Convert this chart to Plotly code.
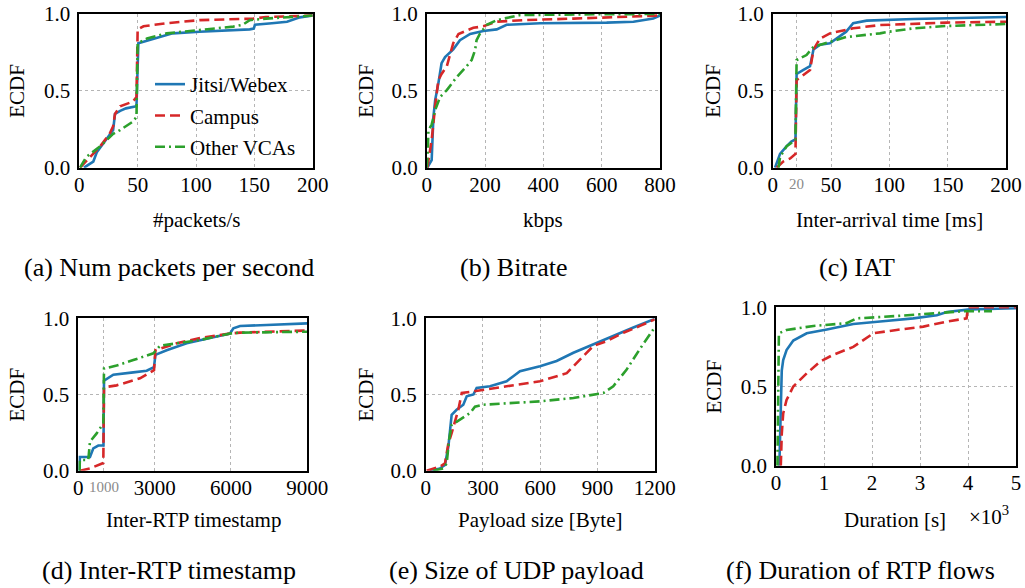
import plotly.graph_objects as go

# ---------------- data ----------------
series_names = ["Jitsi/Webex", "Campus", "Other VCAs"]

# (a) packets per second
a_jitsi_x = [4, 8, 12, 15, 20, 25, 29, 30.6, 35, 40, 49, 50.6, 55, 69, 80, 103, 120, 146, 149.5, 150.5, 165, 178, 189, 200]
a_jitsi_y = [0, 0.02, 0.04, 0.10, 0.15, 0.20, 0.245, 0.35, 0.37, 0.386, 0.40, 0.81, 0.82, 0.85, 0.874, 0.885, 0.89, 0.90, 0.905, 0.93, 0.94, 0.95, 0.978, 0.99]
a_campus_x = [0.6, 9, 18, 26, 29, 30.6, 35, 46, 49, 50, 55, 75, 103, 149, 160, 200]
a_campus_y = [0, 0.07, 0.14, 0.22, 0.27, 0.35, 0.40, 0.43, 0.46, 0.90, 0.92, 0.94, 0.96, 0.97, 0.98, 0.99]
a_other_x = [0.6, 6, 18, 29, 35, 46, 49, 50, 58, 75, 103, 132, 140, 146, 160, 189, 200]
a_other_y = [0, 0.07, 0.14, 0.22, 0.245, 0.30, 0.33, 0.81, 0.84, 0.874, 0.896, 0.918, 0.93, 0.96, 0.97, 0.985, 0.99]

# (b) bitrate [kbps]
b_jitsi_x = [2, 11, 17, 23, 29, 40, 51, 63, 91, 114, 149, 194, 240, 274, 389, 617, 709, 777, 800]
b_jitsi_y = [0, 0.03, 0.05, 0.33, 0.44, 0.55, 0.68, 0.72, 0.77, 0.83, 0.87, 0.89, 0.90, 0.93, 0.94, 0.944, 0.95, 0.97, 0.99]
b_campus_x = [2, 17, 29, 40, 51, 69, 91, 109, 160, 194, 240, 331, 503, 800]
b_campus_y = [0, 0.18, 0.40, 0.57, 0.61, 0.66, 0.81, 0.87, 0.91, 0.92, 0.95, 0.96, 0.97, 0.99]
b_other_x = [0, 3, 6, 17, 29, 46, 69, 103, 137, 154, 166, 171, 183, 206, 240, 320, 571, 800]
b_other_y = [0, 0.08, 0.245, 0.28, 0.375, 0.46, 0.505, 0.59, 0.66, 0.70, 0.766, 0.83, 0.874, 0.93, 0.96, 0.993, 0.998, 1.0]

# (c) inter-arrival time [ms]
c_jitsi_x = [2, 6.3, 12, 16, 19.5, 20.5, 26, 32, 35, 40.6, 49, 63, 69, 80.6, 121, 200]
c_jitsi_y = [0, 0.09, 0.14, 0.17, 0.185, 0.61, 0.635, 0.66, 0.77, 0.80, 0.81, 0.885, 0.94, 0.957, 0.967, 0.98]
c_campus_x = [3.4, 9, 15, 19.5, 20.5, 26, 32, 35, 40.6, 49, 69, 92, 149, 200]
c_campus_y = [0, 0.04, 0.06, 0.09, 0.57, 0.60, 0.635, 0.77, 0.84, 0.874, 0.907, 0.928, 0.944, 0.95]
c_other_x = [5, 6.3, 12, 19.5, 20.5, 29, 35, 49, 63, 92, 100, 121, 149, 200]
c_other_y = [0, 0.07, 0.14, 0.18, 0.70, 0.733, 0.787, 0.82, 0.85, 0.874, 0.885, 0.907, 0.922, 0.935]

# (d) inter-RTP timestamp
d_jitsi_x = [50, 60, 460, 590, 786, 990, 1010, 1376, 2162, 2687, 2975, 3030, 3473, 4260, 5440, 5963, 6094, 6357, 7405, 9000]
d_jitsi_y = [0, 0.09, 0.09, 0.147, 0.165, 0.165, 0.59, 0.63, 0.645, 0.656, 0.68, 0.76, 0.79, 0.836, 0.88, 0.90, 0.934, 0.95, 0.956, 0.967]
d_campus_x = [65, 460, 983, 1010, 1507, 2425, 2975, 3030, 3866, 4784, 5963, 6357, 9000]
d_campus_y = [0, 0.015, 0.05, 0.547, 0.56, 0.606, 0.66, 0.79, 0.836, 0.87, 0.90, 0.906, 0.92]
d_other_x = [50, 60, 393, 459, 721, 983, 1010, 1507, 2162, 2949, 3211, 4784, 5963, 6357, 9000]
d_other_y = [0, 0.07, 0.07, 0.19, 0.245, 0.31, 0.67, 0.69, 0.726, 0.77, 0.82, 0.858, 0.90, 0.906, 0.912]

# (e) UDP payload size [Byte]
e_jitsi_x = [23, 75, 101, 119, 136, 162, 197, 215, 250, 267, 337, 424, 459, 494, 599, 686, 774, 896, 983, 1088, 1193, 1200]
e_jitsi_y = [0, 0.015, 0.037, 0.16, 0.367, 0.40, 0.433, 0.488, 0.50, 0.543, 0.554, 0.587, 0.62, 0.653, 0.686, 0.72, 0.774, 0.84, 0.884, 0.94, 0.993, 1.0]
e_campus_x = [5, 75, 101, 119, 136, 171, 189, 250, 424, 599, 739, 809, 878, 948, 1036, 1123, 1200]
e_campus_y = [0, 0.026, 0.048, 0.18, 0.246, 0.40, 0.51, 0.52, 0.554, 0.587, 0.64, 0.73, 0.818, 0.85, 0.905, 0.95, 0.993]
e_other_x = [40, 93, 110, 122, 136, 180, 232, 258, 302, 599, 774, 931, 983, 1053, 1123, 1200]
e_other_y = [0, 0.015, 0.048, 0.20, 0.30, 0.334, 0.378, 0.42, 0.433, 0.455, 0.477, 0.51, 0.554, 0.664, 0.80, 0.94]

# (f) RTP flow duration [s]
f_jitsi_x = [70, 90, 100, 120, 150, 220, 360, 640, 1060, 1610, 2170, 2860, 3350, 3560, 4040, 5000]
f_jitsi_y = [0, 0.30, 0.50, 0.60, 0.667, 0.73, 0.79, 0.836, 0.86, 0.895, 0.91, 0.93, 0.95, 0.97, 0.987, 0.994]
f_campus_x = [100, 120, 150, 220, 360, 640, 920, 1190, 1610, 2030, 2510, 3070, 3560, 3970, 4000, 5000]
f_campus_y = [0, 0.20, 0.33, 0.415, 0.50, 0.583, 0.657, 0.70, 0.75, 0.836, 0.857, 0.878, 0.91, 0.93, 1.0, 1.0]
f_other_x = [30, 40, 60, 220, 780, 1470, 1680, 2510, 3350, 3900, 4500]
f_other_y = [0, 0.50, 0.836, 0.857, 0.882, 0.90, 0.93, 0.945, 0.962, 0.975, 0.975]

# axis ticks
a_ticks = [0, 50, 100, 150, 200]
b_ticks = [0, 200, 400, 600, 800]
c_ticks = [0, 50, 100, 150, 200]
c_marked_tick = 20          # extra tick drawn smaller and grey
d_ticks = [0, 3000, 6000, 9000]
d_marked_tick = 1000        # extra tick drawn smaller and grey
e_ticks = [0, 300, 600, 900, 1200]
f_ticks = [0, 1000, 2000, 3000, 4000, 5000]
f_ticklabels = ["0", "1", "2", "3", "4", "5"]
y_ticks = [0, 0.5, 1.0]
y_ticklabels = ["0.0", "0.5", "1.0"]

x_titles = ["#packets/s", "kbps", "Inter-arrival time [ms]",
            "Inter-RTP timestamp", "Payload size [Byte]", "Duration [s]"]
captions = ["(a) Num packets per second", "(b) Bitrate", "(c) IAT",
            "(d) Inter-RTP timestamp", "(e) Size of UDP payload", "(f) Duration of RTP flows"]

# ---------------- styling / layout ----------------
W, H = 1025, 588
FONT = "Liberation Serif"
colors = ["#1f77b4", "#d62728", "#2ca02c"]
dashes = ["solid", "10px,5px", "10px,4px,2px,4px"]
GRID = "#b5b5b5"

# pixel boxes (left, right, top, bottom)
boxes = [
    (79.3, 312.7, 14.0, 167.7),
    (426.7, 660.0, 14.0, 167.7),
    (772.7, 1006.0, 14.0, 167.7),
    (78.3, 307.3, 318.3, 470.7),
    (425.7, 654.7, 318.3, 470.7),
    (776.0, 1016.0, 307.3, 465.7),
]
ranges = [[0, 200], [0, 800], [0, 200], [0, 9000], [0, 1200], [0, 5000]]

tick_vals = [a_ticks, b_ticks, c_ticks, d_ticks, e_ticks, f_ticks]
tick_texts = [
    [str(v) for v in a_ticks],
    [str(v) for v in b_ticks],
    [str(v) for v in c_ticks],
    [str(v) for v in d_ticks],
    [str(v) for v in e_ticks],
    f_ticklabels,
]
minor_vals = [None, None, [c_marked_tick], [d_marked_tick], None, None]

data = [
    [(a_jitsi_x, a_jitsi_y), (a_campus_x, a_campus_y), (a_other_x, a_other_y)],
    [(b_jitsi_x, b_jitsi_y), (b_campus_x, b_campus_y), (b_other_x, b_other_y)],
    [(c_jitsi_x, c_jitsi_y), (c_campus_x, c_campus_y), (c_other_x, c_other_y)],
    [(d_jitsi_x, d_jitsi_y), (d_campus_x, d_campus_y), (d_other_x, d_other_y)],
    [(e_jitsi_x, e_jitsi_y), (e_campus_x, e_campus_y), (e_other_x, e_other_y)],
    [(f_jitsi_x, f_jitsi_y), (f_campus_x, f_campus_y), (f_other_x, f_other_y)],
]

fig = go.Figure()
layout = dict(
    template="none",
    width=W, height=H,
    margin=dict(l=0, r=0, t=0, b=0, pad=0, autoexpand=False),
    paper_bgcolor="white", plot_bgcolor="white",
    font=dict(family=FONT, size=21, color="black"),
    showlegend=True,
    legend=dict(x=150 / W, y=1 - 64 / H, xanchor="left", yanchor="top",
                bgcolor="rgba(0,0,0,0)", borderwidth=0,
                font=dict(family=FONT, size=21), tracegroupgap=1,
                itemwidth=30),
)

annotations = []
for i in range(6):
    n = "" if i == 0 else str(i + 1)
    l, r, t, b = boxes[i]
    for j in range(3):
        xs, ys = data[i][j]
        fig.add_trace(go.Scatter(
            x=xs, y=ys, mode="lines", name=series_names[j],
            line=dict(color=colors[j], width=2.6, dash=dashes[j]),
            xaxis="x" + n, yaxis="y" + n,
            showlegend=(i == 0), legendgroup=series_names[j],
        ))
    common = dict(showline=True, mirror=True, linecolor="black", linewidth=1.5,
                  showgrid=True, gridcolor=GRID, griddash="dot", gridwidth=1,
                  zeroline=False, ticks="", automargin=False,
                  tickfont=dict(family=FONT, size=21, color="black"))
    xa = dict(domain=[l / W, r / W], range=ranges[i], anchor="y" + n,
              tickmode="array", tickvals=tick_vals[i], ticktext=tick_texts[i],
              ticklabelstandoff=-3, **common)
    if minor_vals[i] is not None:
        xa["minor"] = dict(tickmode="array", tickvals=minor_vals[i], showgrid=True,
                           gridcolor=GRID, griddash="dot", gridwidth=1, ticks="")
    layout["xaxis" + n] = xa
    layout["yaxis" + n] = dict(domain=[1 - b / H, 1 - t / H], range=[0, 1], anchor="x" + n,
                               tickmode="array", tickvals=y_ticks, ticktext=y_ticklabels,
                               ticklabelstandoff=3, **common)

# small grey tick labels (placed at their data x position)
grey_font = dict(family=FONT, size=15, color="#8a8a8a")
annotations.append(dict(text=str(c_marked_tick), x=c_marked_tick, xref="x3", y=1 - 184 / H, yref="paper",
                        showarrow=False, xanchor="center", yanchor="middle", font=grey_font))
annotations.append(dict(text=str(d_marked_tick), x=d_marked_tick, xref="x4", y=1 - 487 / H, yref="paper",
                        showarrow=False, xanchor="center", yanchor="middle", font=grey_font))

# y titles
ylab_x = [17, 366, 713, 16, 365, 713]
for i in range(6):
    l, r, t, b = boxes[i]
    annotations.append(dict(text="ECDF", x=ylab_x[i] / W, y=1 - ((t + b) / 2) / H,
                            xref="paper", yref="paper", showarrow=False, textangle=-90,
                            xanchor="center", yanchor="middle", font=dict(family=FONT, size=21)))
# x titles
xt_x = [196, 543, 889, 193, 540, 895]
xt_y = [220, 220, 220, 520, 520, 520]
for i in range(6):
    annotations.append(dict(text=x_titles[i], x=xt_x[i] / W, y=1 - xt_y[i] / H,
                            xref="paper", yref="paper", showarrow=False,
                            xanchor="center", yanchor="middle", font=dict(family=FONT, size=21)))
annotations.append(dict(text="×10<sup>3</sup>", x=989 / W, y=1 - 515 / H, xref="paper", yref="paper",
                        showarrow=False, xanchor="center", yanchor="middle",
                        font=dict(family=FONT, size=21)))
# captions
cap_x = [169, 514, 857, 169, 516, 860]
cap_y = [267, 267, 267, 570, 570, 570]
for i in range(6):
    annotations.append(dict(text=captions[i], x=cap_x[i] / W, y=1 - cap_y[i] / H,
                            xref="paper", yref="paper", showarrow=False,
                            xanchor="center", yanchor="middle", font=dict(family=FONT, size=26)))

layout["annotations"] = annotations
fig.update_layout(**layout)
fig.write_html("out.html")
